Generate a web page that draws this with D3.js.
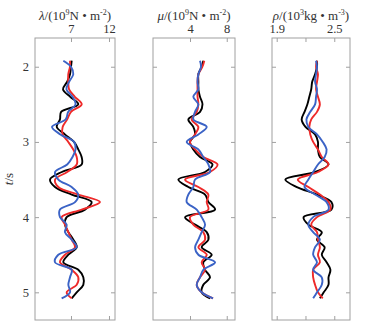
<!DOCTYPE html>
<html>
<head>
<meta charset="utf-8">
<script src="https://d3js.org/d3.v7.min.js"></script>
<style>
    body { margin: 0; background: #fff; }
    text { font-family: "Liberation Serif", "Times New Roman", serif; fill: #333; }
    .frame { fill: none; stroke: #a0a0a0; stroke-width: 1; }
    .tick line { stroke: #a0a0a0; }
    .curve { fill: none; stroke-width: 1.9; stroke-linejoin: round; }
</style>
</head>
<body>
<div id="chart"></div>
<script>
// time samples (s)
const times = [1.92, 2.0, 2.1, 2.2, 2.3, 2.4, 2.5, 2.6, 2.7, 2.8, 2.9, 3.0, 3.1, 3.2, 3.3, 3.4, 3.5,
               3.6, 3.7, 3.8, 3.9, 4.0, 4.1, 4.2, 4.3, 4.4, 4.5, 4.6, 4.7, 4.8, 4.9, 5.0, 5.08];

// lambda (10^9 N/m^2)
const lambdaBlack = [7.09, 7.00, 6.87, 6.50, 5.95, 6.90, 7.96, 5.70, 5.55, 5.12, 6.20, 7.40, 7.96, 8.40, 8.40, 5.80, 4.24,
                     4.89, 7.09, 9.72, 8.84, 6.43, 6.21, 6.65, 7.31, 7.75, 6.65, 5.99, 7.96, 8.62, 8.62, 7.75, 7.09];
const lambdaRed   = [6.87, 6.87, 6.64, 6.64, 6.75, 7.50, 8.41, 7.00, 6.50, 5.90, 5.90, 6.64, 7.30, 7.75, 7.75, 6.50, 4.90,
                     5.33, 7.96, 10.82, 8.40, 5.77, 6.21, 6.65, 7.09, 7.53, 6.21, 5.55, 7.09, 7.96, 7.75, 6.43, 7.09];
const lambdaBlue  = [5.99, 7.00, 7.30, 6.75, 6.40, 7.20, 7.60, 6.64, 6.30, 4.50, 5.60, 7.40, 7.60, 7.20, 6.50, 4.90, 5.33,
                     7.09, 7.96, 7.53, 5.55, 5.55, 6.43, 6.21, 7.09, 7.75, 5.33, 4.89, 7.09, 6.87, 6.65, 6.87, 5.77];

// mu (10^9 N/m^2)
const muBlack = [5.45, 5.27, 4.91, 4.91, 4.91, 5.09, 5.36, 5.09, 3.82, 4.36, 4.55, 4.00, 4.36, 5.09, 6.45, 5.64, 2.73,
                 3.82, 5.64, 6.00, 6.73, 3.46, 4.55, 5.82, 6.00, 5.27, 6.36, 5.45, 5.64, 6.18, 5.45, 5.27, 6.18];
const muRed   = [5.56, 5.35, 4.91, 4.82, 4.82, 4.82, 4.91, 4.73, 4.18, 4.91, 4.55, 4.00, 4.55, 5.45, 7.00, 6.18, 3.46,
                 4.91, 6.00, 5.82, 6.00, 4.00, 4.36, 5.45, 5.64, 4.91, 5.82, 5.27, 5.64, 5.09, 4.73, 5.27, 6.51];
const muBlue  = [5.09, 5.20, 4.91, 4.82, 4.91, 4.36, 4.91, 4.55, 4.36, 5.82, 4.91, 3.64, 4.91, 5.45, 6.00, 6.18, 4.55,
                 4.36, 3.82, 3.64, 4.73, 5.27, 5.64, 5.27, 4.91, 4.55, 4.91, 6.73, 5.45, 5.09, 4.73, 5.27, 6.51];

// rho (10^3 kg/m^3)
const rhoBlack = [2.32, 2.32, 2.30, 2.27, 2.26, 2.24, 2.22, 2.19, 2.16, 2.20, 2.30, 2.33, 2.33, 2.35, 2.44, 2.30, 1.99,
                  2.11, 2.32, 2.47, 2.47, 2.18, 2.23, 2.37, 2.32, 2.40, 2.37, 2.42, 2.46, 2.44, 2.44, 2.39, 2.35];
const rhoRed   = [2.32, 2.31, 2.33, 2.32, 2.31, 2.33, 2.35, 2.32, 2.26, 2.24, 2.25, 2.28, 2.33, 2.37, 2.44, 2.33, 2.12,
                  2.23, 2.35, 2.44, 2.46, 2.32, 2.26, 2.32, 2.33, 2.35, 2.33, 2.35, 2.28, 2.28, 2.30, 2.33, 2.38];
const rhoBlue  = [2.31, 2.32, 2.31, 2.30, 2.32, 2.31, 2.30, 2.25, 2.21, 2.23, 2.32, 2.38, 2.42, 2.40, 2.33, 2.28, 2.23,
                  2.19, 2.30, 2.42, 2.44, 2.28, 2.23, 2.28, 2.35, 2.30, 2.28, 2.32, 2.28, 2.37, 2.37, 2.32, 2.28];

const timeTicks = [2, 3, 4, 5];
const colors = ["#000000", "#ee2a2a", "#3b63c6"];

// panel layout
const panels = [
    { x0: 35, x1: 115, domain: [2.263, 12.79], ticks: [7, 12], labels: ["7", "12"],
      sym: "λ", unit: "N • m", pow: "9", exp: "-2", series: [lambdaBlack, lambdaRed, lambdaBlue], yLabels: true },
    { x0: 153, x1: 235, domain: [-0.03, 8.9], ticks: [4, 8], labels: ["4", "8"],
      sym: "μ", unit: "N • m", pow: "9", exp: "-2", series: [muBlack, muRed, muBlue], yLabels: false },
    { x0: 272, x1: 350, domain: [1.851, 2.664], ticks: [1.9, 2.2, 2.5], labels: ["1.9", "", "2.5"],
      sym: "ρ", unit: "kg • m", pow: "3", exp: "-3", series: [rhoBlack, rhoRed, rhoBlue], yLabels: false }
];

const W = 384, H = 334;
const plotTop = 38, plotBottom = 320;

const svg = d3.select("#chart").append("svg")
    .attr("width", W)
    .attr("height", H);

const y = d3.scaleLinear()
    .domain([1.618, 5.368])
    .range([plotTop, plotBottom]);

panels.forEach(p => {
    const x = d3.scaleLinear().domain(p.domain).range([p.x0, p.x1]);
    const g = svg.append("g");

    // curves
    p.series.forEach((vals, i) => {
        const line = d3.line()
            .x(d => x(d))
            .y((d, j) => y(times[j]))
            .curve(d3.curveCatmullRom.alpha(0.5));
        g.append("path")
            .datum(vals)
            .attr("class", "curve")
            .attr("stroke", colors[i])
            .attr("d", line);
    });

    // axes, ticks pointing inward
    g.append("g")
        .attr("transform", `translate(0,${plotTop})`)
        .call(d3.axisTop(x).tickValues(p.ticks).tickSize(-4).tickPadding(5)
            .tickFormat((d, i) => p.labels[i]))
        .call(a => a.select(".domain").remove())
        .selectAll("text").style("font-size", "12.5px").attr("fill", "#333");

    g.append("g")
        .attr("transform", `translate(0,${plotBottom})`)
        .call(d3.axisBottom(x).tickValues(p.ticks).tickSize(-4).tickFormat(""))
        .call(a => a.select(".domain").remove());

    g.append("g")
        .attr("transform", `translate(${p.x0},0)`)
        .call(d3.axisLeft(y).tickValues(timeTicks).tickSize(-4).tickPadding(6)
            .tickFormat(p.yLabels ? d3.format("d") : ""))
        .call(a => a.select(".domain").remove())
        .selectAll("text").style("font-size", "12.5px").attr("fill", "#333");

    g.append("g")
        .attr("transform", `translate(${p.x1},0)`)
        .call(d3.axisRight(y).tickValues(timeTicks).tickSize(-4).tickFormat(""))
        .call(a => a.select(".domain").remove());

    g.append("rect")
        .attr("class", "frame")
        .attr("x", p.x0)
        .attr("y", plotTop)
        .attr("width", p.x1 - p.x0)
        .attr("height", plotBottom - plotTop);

    // title
    const title = g.append("text")
        .attr("x", (p.x0 + p.x1) / 2)
        .attr("y", 20)
        .attr("text-anchor", "middle")
        .style("font-size", "13px");
    title.append("tspan").style("font-style", "italic").text(p.sym);
    title.append("tspan").text("/(10");
    title.append("tspan").attr("dy", -5).style("font-size", "8px").text(p.pow);
    title.append("tspan").attr("dy", 5).text(p.unit);
    title.append("tspan").attr("dy", -5).style("font-size", "8px").text(p.exp);
    title.append("tspan").attr("dy", 5).text(")");
});

// y axis label
const yl = svg.append("text")
    .attr("transform", `translate(13,${(plotTop + plotBottom) / 2}) rotate(-90)`)
    .attr("text-anchor", "middle")
    .style("font-size", "13px");
yl.append("tspan").style("font-style", "italic").text("t");
yl.append("tspan").text("/s");
</script>
</body>
</html>
